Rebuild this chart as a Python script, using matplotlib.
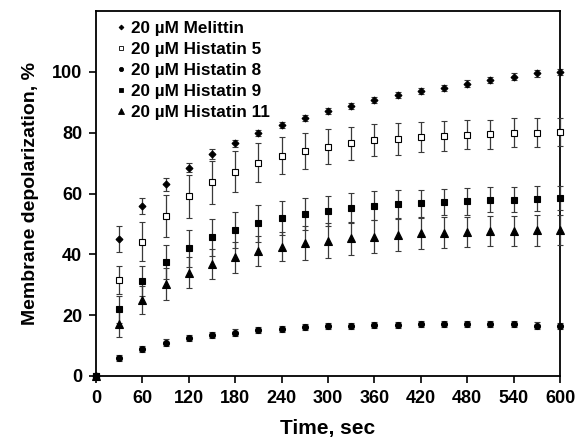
import numpy as np
import matplotlib.pyplot as plt
from matplotlib.lines import Line2D

plt.rcParams['font.family'] = ['Liberation Sans', 'DejaVu Sans']

time = np.arange(0, 601, 30)

melittin = [0, 45.1, 55.9, 63.0, 68.5, 73.0, 76.5, 80.0, 82.5, 85.0, 87.3, 88.9, 90.7,
            92.3, 93.6, 94.8, 96.2, 97.4, 98.5, 99.5, 100.0]
melittin_err = [0, 4.2, 2.7, 2.0, 1.5, 1.5, 1.2, 1.0, 1.0, 1.0, 1.0, 1.0, 1.0,
                1.0, 1.0, 1.0, 1.0, 1.0, 1.0, 1.0, 1.0]
hist5 = [0, 31.6, 44.2, 52.7, 59.1, 63.7, 67.2, 70.2, 72.5, 74.0, 75.4, 76.5, 77.5,
         78.0, 78.7, 79.0, 79.4, 79.5, 80.0, 80.0, 80.3]
hist5_err = [0, 4.7, 6.3, 6.9, 7.0, 7.0, 6.8, 6.5, 6.2, 6.0, 5.7, 5.5, 5.3,
             5.2, 5.0, 5.0, 4.9, 4.8, 4.8, 4.7, 4.7]
hist8 = [0, 5.8, 8.9, 11.0, 12.4, 13.5, 14.3, 15.0, 15.5, 16.0, 16.4, 16.5, 16.7,
         16.9, 17.0, 17.0, 17.0, 17.0, 17.0, 16.6, 16.5]
hist8_err = [0, 1.0, 1.0, 1.0, 1.0, 1.0, 1.0, 1.0, 1.0, 1.0, 1.0, 1.0, 1.0,
             1.0, 1.0, 1.0, 1.0, 1.0, 1.0, 1.0, 1.0]
hist9 = [0, 21.9, 31.3, 37.5, 42.0, 45.6, 48.0, 50.2, 51.9, 53.3, 54.2, 55.3, 56.0,
         56.6, 56.8, 57.2, 57.4, 58.0, 58.0, 58.3, 58.6]
hist9_err = [0, 4.5, 5.0, 5.5, 6.0, 6.0, 6.0, 6.0, 5.5, 5.2, 5.0, 5.0, 4.8,
             4.6, 4.5, 4.4, 4.3, 4.2, 4.2, 4.1, 4.0]
hist11 = [0, 17.1, 25.0, 30.2, 34.0, 36.8, 39.0, 41.1, 42.5, 43.7, 44.5, 45.3, 45.8,
          46.4, 46.9, 47.1, 47.4, 47.7, 47.7, 47.9, 48.0]
hist11_err = [0, 4.2, 4.6, 5.2, 5.0, 5.0, 5.0, 5.0, 4.7, 5.5, 5.8, 5.5, 5.4,
              5.3, 5.2, 5.1, 5.0, 5.0, 5.0, 5.0, 5.0]

labels = ['20 µM Melittin', '20 µM Histatin 5', '20 µM Histatin 8',
          '20 µM Histatin 9', '20 µM Histatin 11']

fig = plt.figure(figsize=(5.78, 4.46), dpi=100)
ax = fig.add_axes([0.166, 0.157, 0.803, 0.818])

series = [
    (melittin, melittin_err, 'D', 'k', 3.5),
    (hist5, hist5_err, 's', 'white', 4.2),
    (hist8, hist8_err, 'o', 'k', 4.3),
    (hist9, hist9_err, 's', 'k', 4.8),
    (hist11, hist11_err, '^', 'k', 5.3),
]
handles = []
for (vals, err, m, fc, ms), lab in zip(series, labels):
    ax.errorbar(time, vals, yerr=err, fmt=m, mfc=fc, mec='k', mew=0.8, ms=ms,
                ecolor='#3a3a3a', elinewidth=0.9, capsize=2, capthick=0.9,
                clip_on=False, zorder=3)
    handles.append(Line2D([], [], ls='none', marker=m, mfc=fc, mec='k', mew=0.6,
                          ms=ms * 0.7, label=lab))

ax.set_xlim(0, 600)
ax.set_ylim(0, 120)
ax.set_xticks(range(0, 601, 60))
ax.set_yticks(range(0, 101, 20))
ax.tick_params(direction='out', length=5, width=1.2, labelsize=13, pad=5)
for lab in ax.get_xticklabels() + ax.get_yticklabels():
    lab.set_fontweight('bold')
for s in ax.spines.values():
    s.set_linewidth(1.3)

ax.set_xlabel('Time, sec', fontsize=15, fontweight='bold', labelpad=9)
ax.set_ylabel('Membrane depolarization, %', fontsize=14, fontweight='bold', labelpad=9)

ax.legend(handles=handles, loc='upper left', frameon=False,
          prop={'weight': 'bold', 'size': 12.3},
          handletextpad=0.0, handlelength=1.2, labelspacing=0.34,
          borderaxespad=0.3, bbox_to_anchor=(0.006, 1.005))

fig.savefig('out.png', dpi=100)
